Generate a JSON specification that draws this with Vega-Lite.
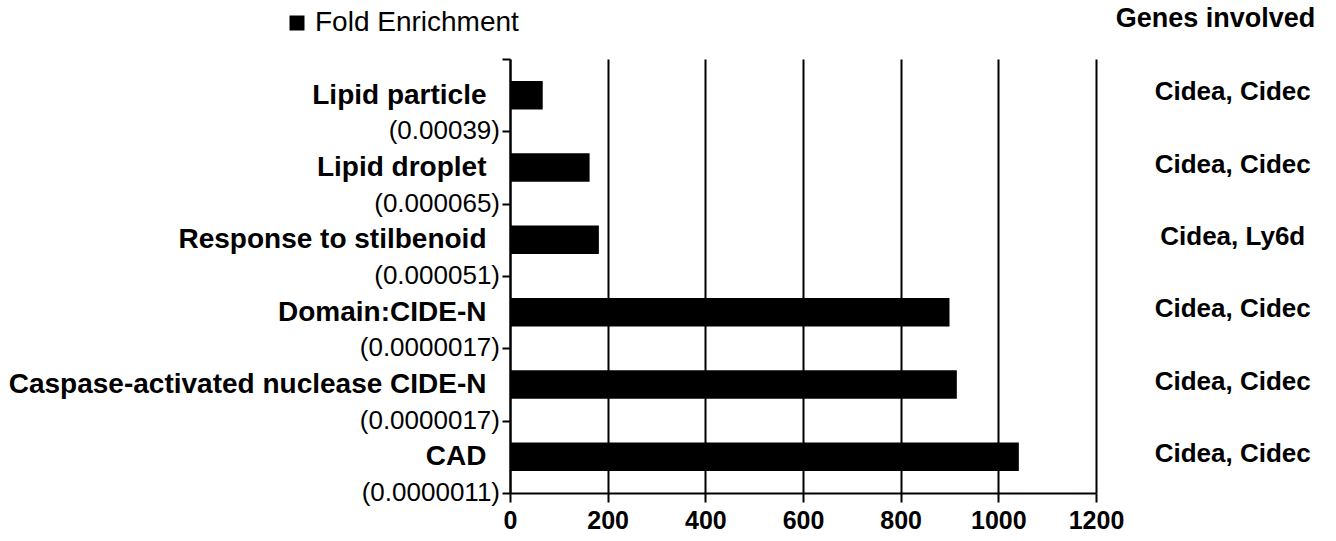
{
  "$schema": "https://vega.github.io/schema/vega-lite/v6.json",
  "autosize": {"type": "none"},
  "padding": {"left": 510, "top": 59, "right": 240, "bottom": 48},
  "width": 586,
  "height": 434,
  "background": "white",
  "config": {"font": "Liberation Sans", "view": {"stroke": null}},
  "data": {
    "values": [
      {"term": "Lipid particle", "p": "(0.00039)", "fold": 67, "genes": "Cidea, Cidec"},
      {"term": "Lipid droplet", "p": "(0.000065)", "fold": 163, "genes": "Cidea, Cidec"},
      {"term": "Response to stilbenoid", "p": "(0.000051)", "fold": 182, "genes": "Cidea, Ly6d"},
      {"term": "Domain:CIDE-N", "p": "(0.0000017)", "fold": 900, "genes": "Cidea, Cidec"},
      {"term": "Caspase-activated nuclease CIDE-N", "p": "(0.0000017)", "fold": 915, "genes": "Cidea, Cidec"},
      {"term": "CAD", "p": "(0.0000011)", "fold": 1042, "genes": "Cidea, Cidec"}
    ]
  },
  "encoding": {
    "y": {
      "field": "term",
      "type": "nominal",
      "sort": null,
      "scale": {"paddingInner": 0, "paddingOuter": 0},
      "axis": {
        "title": "Genes involved",
        "titleX": 705,
        "titleY": -41,
        "titleAngle": 0,
        "titleAlign": "center",
        "titleBaseline": "middle",
        "titleFontSize": 27,
        "titleFontWeight": "bold",
        "titleColor": "black",
        "titleFont": "Liberation Sans",
        "tickBand": "extent",
        "tickSize": 8,
        "tickWidth": 2,
        "tickColor": "black",
        "domainColor": "black",
        "domainWidth": 2,
        "grid": false,
        "labelFontSize": 28,
        "labelFontWeight": "bold",
        "labelColor": "black",
        "labelFont": "Liberation Sans",
        "labelPadding": 16,
        "labelLimit": 0
      }
    }
  },
  "layer": [
    {
      "mark": {"type": "bar", "color": "black", "height": {"band": 0.395}},
      "encoding": {
        "x": {
          "field": "fold",
          "type": "quantitative",
          "scale": {"domain": [0, 1200]},
          "axis": {
            "title": null,
            "values": [0, 200, 400, 600, 800, 1000, 1200],
            "format": "d",
            "grid": true,
            "gridColor": "black",
            "gridWidth": 2,
            "gridOpacity": 1,
            "tickColor": "black",
            "tickSize": 9,
            "tickWidth": 2,
            "domainColor": "black",
            "domainWidth": 2,
            "labelFontSize": 25,
            "labelFontWeight": "bold",
            "labelColor": "black",
            "labelFont": "Liberation Sans",
            "labelPadding": 6,
            "labelFlush": false,
            "labelOverlap": false
          }
        },
        "color": {
          "datum": "Fold Enrichment",
          "scale": {"range": ["black"]},
          "legend": {
            "title": null,
            "orient": "none",
            "legendX": -227,
            "legendY": -50,
            "padding": 0,
            "symbolType": "square",
            "symbolSize": 225,
            "symbolStrokeWidth": 0,
            "symbolFillColor": "black",
            "labelFontSize": 28,
            "labelLimit": 0,
            "labelColor": "black",
            "labelFont": "Liberation Sans",
            "labelOffset": 4
          }
        }
      }
    },
    {
      "mark": {"type": "text", "align": "right", "baseline": "middle", "dx": -10, "dy": 36, "fontSize": 26, "font": "Liberation Sans", "color": "black"},
      "encoding": {"x": {"datum": 0}, "text": {"field": "p"}}
    },
    {
      "mark": {"type": "text", "align": "center", "baseline": "middle", "dy": -3, "fontSize": 26, "fontWeight": "bold", "font": "Liberation Sans", "color": "black"},
      "encoding": {"x": {"datum": 1480}, "text": {"field": "genes"}}
    }
  ]
}
